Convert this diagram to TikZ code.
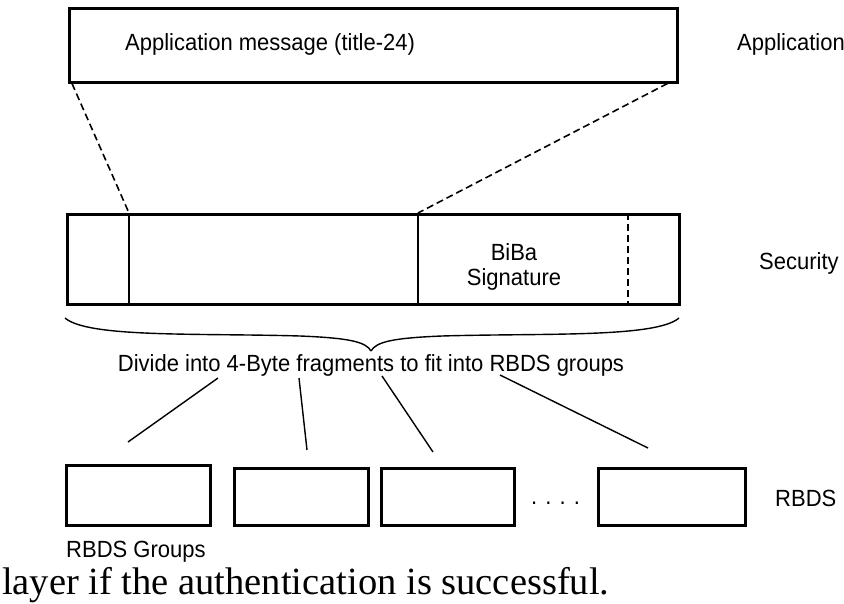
\documentclass[tikz,border=0pt]{standalone}
\usepackage{fontspec}
\setmainfont[FakeStretch=0.94]{Liberation Sans}
\newfontfamily\bodyserif{Liberation Serif}
\begin{document}
\begin{tikzpicture}[x=1pt,y=-1pt,
  frame/.style={draw, line width=2.5pt, inner sep=0pt, anchor=north west},
  divider/.style={line width=1.4pt},
  dashline/.style={line width=1.6pt, dash pattern=on 7pt off 4pt},
  fanline/.style={line width=1.4pt},
  lbl/.style={font=\fontsize{23.4}{26}\selectfont, inner sep=0pt},
  bodytext/.style={font=\bodyserif\fontsize{38.5}{42}\selectfont, inner sep=0pt}]
\useasboundingbox (0,0) rectangle (844,603);

% application layer
\node[frame, minimum width=608pt, minimum height=74pt] (app) at (68,7) {};
\node[lbl, anchor=base west] (apptext) at (125,50) {Application message (title-24)};
\node[lbl, anchor=base west] (applayer) at (737,50) {Application};

% security layer
\node[frame, minimum width=612pt, minimum height=90pt] (sec) at (66,213) {};
\coordinate (hdrT) at (129,213);
\coordinate (hdrB) at (129,303);
\coordinate (sigT) at (418,213);
\coordinate (sigB) at (418,303);
\coordinate (padT) at (628,213);
\coordinate (padB) at (628,303);
\draw[divider] (hdrT) -- (hdrB);
\draw[divider] (sigT) -- (sigB);
\draw[dashline] (padT) -- (padB);
\node[lbl, align=center, font=\fontsize{23.4}{24.5}\selectfont] (biba) at (514,267) {BiBa\\Signature};
\node[lbl, anchor=base west] (seclayer) at (759,269) {Security};

% mapping of the message onto the security frame
\draw[dashline] ([xshift=4pt]app.south west) -- (hdrT);
\draw[dashline] ([xshift=-11pt]app.south east) -- (sigT);

% brace under the security frame
\coordinate (brL) at (65,318);
\coordinate (brR) at (679,318);
\coordinate (brTip) at (371,351);
\draw[line width=1.4pt] (brL) .. controls (88,338) and (200,333) .. (300,336)
  .. controls (350,338) and (366,342) .. (brTip);
\draw[line width=1.4pt] (brR) .. controls (656,338) and (542,333) .. (442,336)
  .. controls (392,338) and (376,342) .. (brTip);
\node[lbl, anchor=base] (divide) at (371,371) {Divide into 4-Byte fragments to fit into RBDS groups};

% RBDS groups
\node[frame, minimum width=144pt, minimum height=60pt] (g1) at (65,464) {};
\node[frame, minimum width=134pt, minimum height=57pt] (g2) at (233,467) {};
\node[frame, minimum width=133pt, minimum height=57pt] (g3) at (380,467) {};
\node[frame, minimum width=147pt, minimum height=57pt] (g4) at (597,467) {};
\node[lbl, anchor=base west] (dots) at (531,504) {. . . .};
\node[lbl, anchor=base west] (rbdslayer) at (775,506) {RBDS};
\node[lbl, anchor=base west] (groups) at (66,557) {RBDS Groups};

% fragments going to the groups
\coordinate (f1a) at (218,378); \coordinate (f1b) at (128,442);
\coordinate (f2a) at (299,378); \coordinate (f2b) at (307,450);
\coordinate (f3a) at (382,376); \coordinate (f3b) at (433,452);
\coordinate (f4a) at (500,375); \coordinate (f4b) at (648,448);
\draw[fanline] (f1a) -- (f1b);
\draw[fanline] (f2a) -- (f2b);
\draw[fanline] (f3a) -- (f3b);
\draw[fanline] (f4a) -- (f4b);

% running text below the figure
\node[bodytext, anchor=base west] (caption) at (2,594) {layer if the authentication is successful.};
\end{tikzpicture}
\end{document}
